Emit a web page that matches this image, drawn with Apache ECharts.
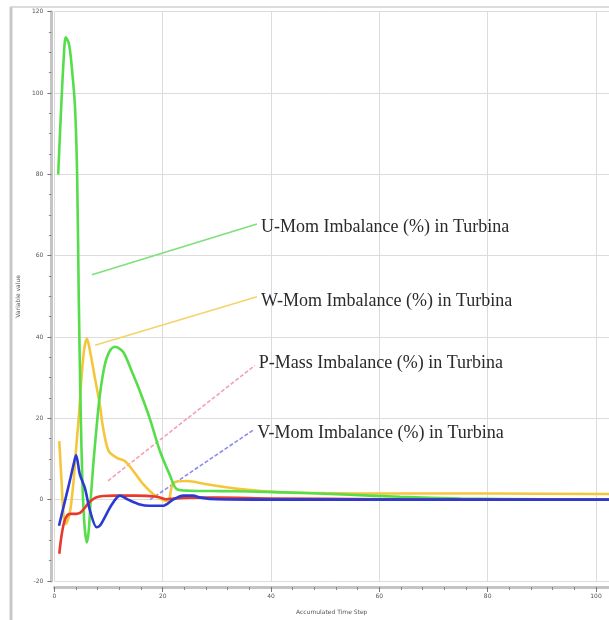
<!DOCTYPE html>
<html>
<head>
<meta charset="utf-8">
<script src="https://cdn.jsdelivr.net/npm/echarts@6/dist/echarts.min.js"></script>
<style>
html,body{margin:0;padding:0;background:#fff;}
#c{width:609px;height:620px;}
</style>
</head>
<body>
<div id="c"></div>
<script>
// ---- data ----
const xTicks = [0, 20, 40, 60, 80, 100];
const yTicks = [-20, 0, 20, 40, 60, 80, 100, 120];

const uX = [0.7, 1.2, 1.7, 2.1, 2.7, 3.2, 3.8, 4.2, 4.5, 4.85, 5.2, 5.6, 6.0, 6.35, 6.7, 7.2, 7.8, 8.4, 9.3, 10.2, 11.2, 12.7, 14.3, 15.8, 17.6, 19.5, 21.3, 22.6, 25, 31, 36, 45, 54.5, 63.8, 75, 90, 102.4];
const uY = [80, 95, 108, 113.7, 112, 106.5, 96.7, 79.6, 49.4, 22, 3, -7, -10.5, -7.5, 0, 9, 18, 25.8, 33.1, 36.5, 37.6, 36.3, 31.5, 26.6, 20, 11.9, 6.1, 2.6, 2.2, 2.1, 2.0, 1.7, 1.2, 0.7, 0.3, 0.1, 0];

const wX = [0.9, 1.3, 1.7, 2.1, 2.6, 3.0, 3.5, 4.1, 4.6, 5.0, 5.5, 6.0, 6.6, 7.5, 8.4, 9.0, 10.0, 11.5, 13.0, 14.6, 16.4, 18.3, 20.1, 21.0, 22.0, 24.4, 28.1, 34.3, 42, 50, 60, 80, 102.4];
const wY = [14.4, 5, -4, -6, -4.5, -2, 4, 14, 22, 30, 37, 39.6, 36.4, 29.8, 23.3, 17.6, 12, 10.3, 9.5, 7, 3.8, 1.3, -0.1, -0.3, 4.2, 4.6, 3.8, 2.6, 1.8, 1.6, 1.5, 1.5, 1.4];

const pX = [0.9, 1.3, 1.8, 2.4, 3.0, 4.0, 4.8, 5.5, 6.2, 7.0, 7.8, 9.0, 11, 15, 19, 20.7, 22, 25, 30, 40, 60, 80, 102.4];
const pY = [-13.3, -9, -5.5, -3.8, -3.5, -3.5, -3.2, -2.2, -1, 0, 0.6, 0.9, 1, 1, 0.7, 0.1, 0.3, 0.5, 0.5, 0.3, 0.1, 0, 0];

const vX = [0.85, 1.5, 2.3, 3.0, 3.6, 4.0, 4.7, 5.6, 6.6, 7.8, 8.4, 9.0, 10.6, 12.1, 13.6, 15.8, 17.6, 20.1, 21.9, 23.8, 25.6, 27, 30, 40, 60, 102.4];
const vY = [-6.4, -2.8, 1.6, 5.5, 9, 11, 6.2, 3, -2.8, -6.8, -6.4, -5.1, -1.2, 1, 0, -1.2, -1.5, -1.5, 0, 1, 1, 0.5, 0.1, 0, 0, 0];

// annotation leader lines [start, end] in data units
const uLead = [[6.94, 55.3], [37.4, 67.8]];
const wLead = [[7.5, 38.0], [37.4, 49.9]];
const pLead = [[9.9, 4.65], [37.0, 33.0]];
const vLead = [[17.65, 0.0], [36.7, 17.1]];

const labels = ['U-Mom Imbalance (%) in Turbina', 'W-Mom Imbalance (%) in Turbina', 'P-Mass Imbalance (%) in Turbina', 'V-Mom Imbalance (%) in Turbina'];

// ---- chart ----
const zip = (a, b) => a.map((v, i) => [v, b[i]]);
const chart = echarts.init(document.getElementById('c'), null, {renderer: 'canvas'});

function curve(name, xs, ys, color) {
  return {
    name, type: 'line', data: zip(xs, ys), smooth: 0.3, showSymbol: false,
    lineStyle: {color, width: 2.6}, itemStyle: {color}, z: 3
  };
}
function lead(name, pts, color, dashed, text, dy) {
  return {
    name, type: 'line', data: pts, showSymbol: false, silent: true,
    lineStyle: {color, width: 1.6, type: dashed ? [4, 2] : 'solid'},
    z: 2,
    endLabel: {
      show: true, formatter: text, distance: 4, offset: [0, dy],
      fontFamily: 'Liberation Serif, Times New Roman, serif', fontSize: 18, color: '#2a2a2a'
    }
  };
}

const axisFont = {fontFamily: 'DejaVu Sans, sans-serif', fontSize: 6, color: '#555'};

chart.setOption({
  animation: false,
  backgroundColor: '#fff',
  grid: {left: 54.4, right: 0, top: 11.7, bottom: 36.3, containLabel: false},
  xAxis: {
    type: 'value', min: 0, max: 102.4, interval: 20,
    name: 'Accumulated Time Step', nameLocation: 'middle', nameGap: 22,
    nameTextStyle: axisFont,
    offset: 6,
    axisLine: {show: true, onZero: false, lineStyle: {color: '#c4c4c4', width: 3}},
    axisTick: {show: true, length: 5, lineStyle: {color: '#777'}},
    minorTick: {show: true, splitNumber: 5, length: 3, lineStyle: {color: '#888'}},
    axisLabel: Object.assign({margin: 6, showMaxLabel: false,
      formatter: v => (xTicks.indexOf(v) >= 0 ? String(v) : '')}, axisFont),
    splitLine: {show: true, lineStyle: {color: '#dcdcdc', width: 1}}
  },
  yAxis: {
    type: 'value', min: -20, max: 120, interval: 20,
    name: 'Variable value', nameLocation: 'middle', nameGap: 30, nameRotate: 90,
    nameTextStyle: axisFont,
    offset: 3,
    axisLine: {show: true, onZero: false, lineStyle: {color: '#c4c4c4', width: 3}},
    axisTick: {show: true, length: 4, lineStyle: {color: '#777'}},
    minorTick: {show: true, splitNumber: 4, length: 2.5, lineStyle: {color: '#888'}},
    axisLabel: Object.assign({margin: 8,
      formatter: v => (yTicks.indexOf(v) >= 0 ? String(v) : '')}, axisFont),
    splitLine: {show: true, lineStyle: {color: '#dcdcdc', width: 1}}
  },
  graphic: [
    {type: 'line', shape: {x1: 11, y1: 7, x2: 11, y2: 620}, style: {stroke: '#c8c8c8', lineWidth: 3}, silent: true},
    {type: 'line', shape: {x1: 10, y1: 7, x2: 609, y2: 7}, style: {stroke: '#d0d0d0', lineWidth: 1.5}, silent: true}
  ],
  series: [
    lead('uLead', uLead, '#7ee07a', false, labels[0], 3),
    lead('wLead', wLead, '#f5d26a', false, labels[1], 5),
    lead('pLead', pLead, '#f2a0b4', true, labels[2], -2),
    lead('vLead', vLead, '#8c8cee', true, labels[3], 3),
    curve('W-Mom', wX, wY, '#f5c63c'),
    curve('U-Mom', uX, uY, '#55dd4a'),
    curve('P-Mass', pX, pY, '#e83a2c'),
    curve('V-Mom', vX, vY, '#2a3ad2')
  ]
});
</script>
</body>
</html>
